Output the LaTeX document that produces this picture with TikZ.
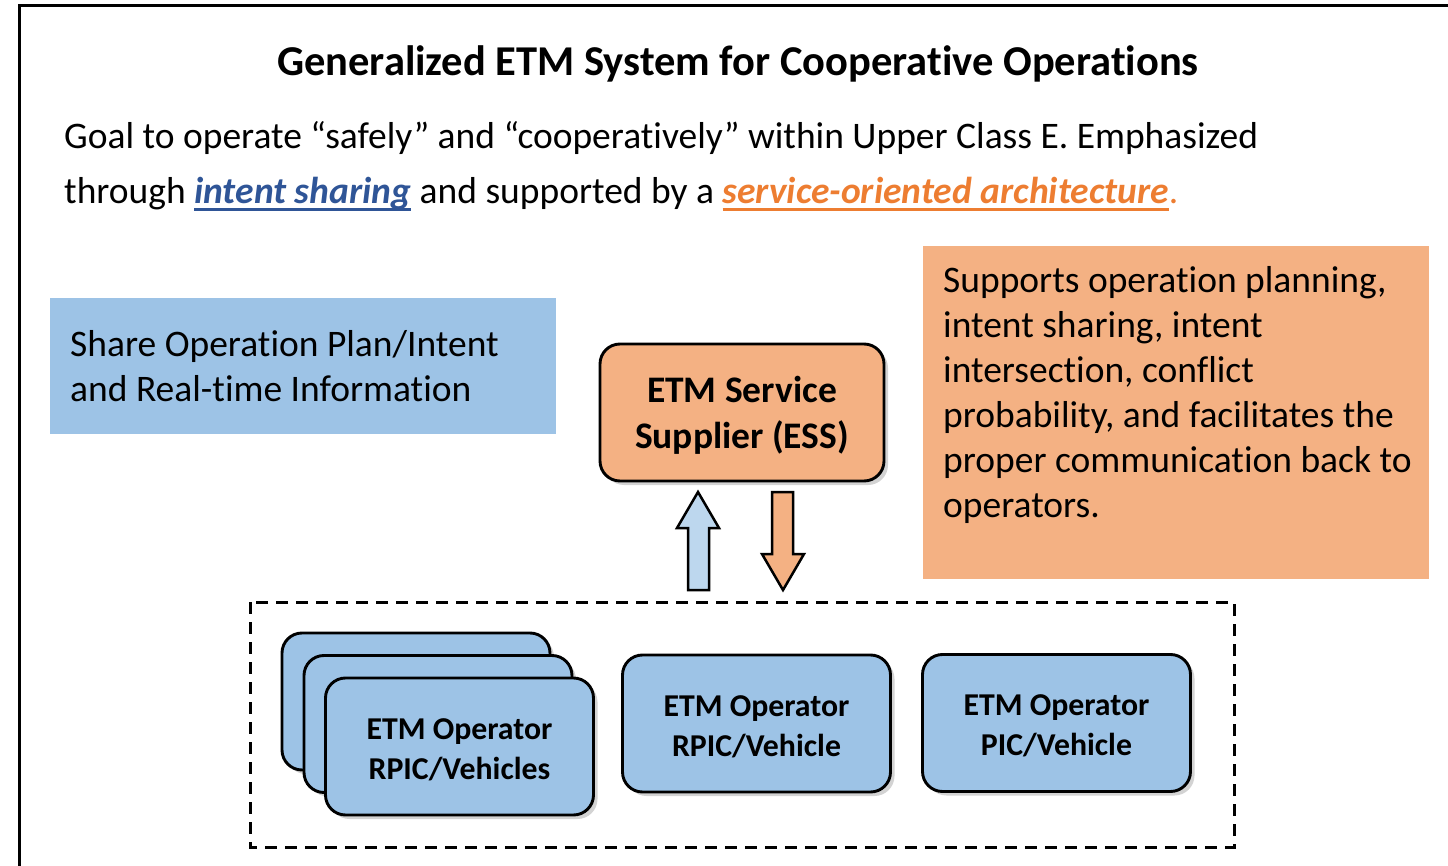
\documentclass[tikz,border=0pt]{standalone}
\usepackage{fontspec}
\setmainfont{Carlito}[Ligatures=NoCommon]
\usetikzlibrary{shadows}
\definecolor{paleblue}{HTML}{9DC3E6}
\definecolor{lightblue}{HTML}{BDD7EE}
\definecolor{peach}{HTML}{F4B183}
\definecolor{linkblue}{HTML}{2F5597}
\definecolor{linkorange}{HTML}{ED7D31}
% underline drawn in the current colour, below the descenders' start
\newcommand\wordul[1]{\setbox0\hbox{#1}\rlap{\rule[-7pt]{\wd0}{2.8pt}}\box0}
\tikzset{
  bodytext/.style={inner sep=0pt, font=\fontsize{37.5}{45}\selectfont},
  roundbox/.style={draw=black, line width=2.9pt, rounded corners=20pt,
    drop shadow={opacity=0.35, shadow xshift=4pt, shadow yshift=-4pt}},
  opbox/.style={roundbox, fill=paleblue, minimum width=268pt, minimum height=137pt, inner sep=0pt},
  optext/.style={align=center, font=\fontsize{31.8}{40}\selectfont\bfseries, inner sep=0pt},
  blockarrow/.style={draw=black, line width=2.5pt, line join=miter},
}
\begin{document}
\begin{tikzpicture}[x=1pt,y=-1pt]
\useasboundingbox (0,0) rectangle (1448,866);
% outer frame
\draw[line width=3pt] (19.5,870) -- (19.5,5.5) -- (1452,5.5);

% title and goal statement
\node[font=\fontsize{42.5}{50}\selectfont\bfseries, inner sep=0pt] (title) at (738,64)
  {Generalized ETM System for Cooperative Operations};
\node[bodytext, anchor=base west] (goal1) at (64,149)
  {Goal to operate “safely” and “cooperatively” within Upper Class E. Emphasized};
\node[bodytext, anchor=base west] (goal2) at (64,204)
  {through \textcolor{linkblue}{\wordul{\bfseries\itshape intent sharing}} and supported by a
   \textcolor{linkorange}{\wordul{\bfseries\itshape service-oriented architecture}.}};

% information sharing note
\node[fill=paleblue, minimum width=506pt, minimum height=136pt, inner sep=0pt] (share) at (303,366) {};
\node[bodytext, anchor=west, align=left] (sharetext) at (70,366)
  {Share Operation Plan/Intent\\and Real-time Information};

% ESS description note
\node[fill=peach, minimum width=506pt, minimum height=333pt, inner sep=0pt] (desc) at (1176,412.5) {};
\node[bodytext, anchor=north west, align=left] (desctext) at (943,266)
  {Supports operation planning,\\intent sharing, intent\\intersection, conflict\\probability, and facilitates the\\proper communication back to\\operators.};

% ETM service supplier
\node[roundbox, fill=peach, minimum width=284pt, minimum height=137pt, inner sep=0pt] (ess) at (742,412.5) {};
\node[align=center, font=\fontsize{37.5}{46}\selectfont\bfseries, inner sep=0pt] (esstext)
  at ([yshift=-3pt]ess.center) {ETM Service\\Supplier (ESS)};

% operators group
\draw[line width=3pt, dash pattern=on 12pt off 8pt] (250,602) rectangle (1234,847);
\node[opbox] (opA3) at (416,701.5) {};
\node[opbox] (opA2) at (438,724) {};
\node[opbox] (opA1) at (459.5,746.5) {};
\node[opbox] (opB) at (756.5,723.5) {};
\node[opbox] (opC) at (1056.5,723) {};
\node[optext] (opA1text) at ([yshift=-3pt]opA1.center) {ETM Operator\\RPIC/Vehicles};
\node[optext] (opBtext) at ([yshift=-3pt]opB.center) {ETM Operator\\RPIC/Vehicle};
\node[optext] (opCtext) at ([yshift=-3pt]opC.center) {ETM Operator\\PIC/Vehicle};

% exchange arrows between operators and ESS
\draw[blockarrow, fill=lightblue]
  (688,590) -- (688,528) -- (677,528) -- (698,492) -- (719,528) -- (709,528) -- (709,590) -- cycle;
\draw[blockarrow, fill=peach]
  (772,492) -- (772,554) -- (762,554) -- (783,590) -- (804,554) -- (793,554) -- (793,492) -- cycle;
\end{tikzpicture}
\end{document}
